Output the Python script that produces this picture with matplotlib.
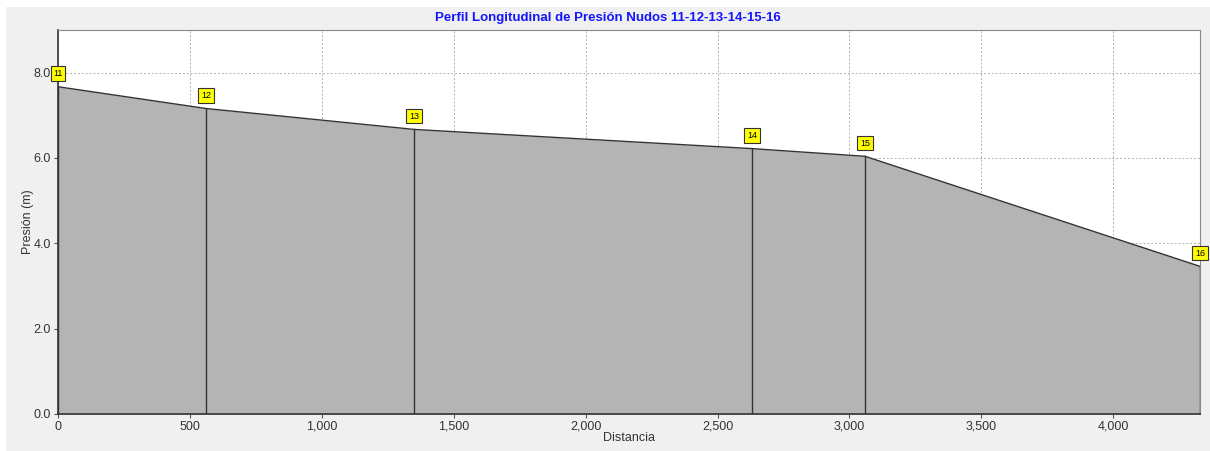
import matplotlib
matplotlib.use("Agg")
import matplotlib.pyplot as plt
from matplotlib.patches import Rectangle
from matplotlib.ticker import FuncFormatter, MultipleLocator

nodes = ["11", "12", "13", "14", "15", "16"]
distance = [0, 561, 1350, 2631, 3059, 4329]
pressure = [7.67, 7.16, 6.67, 6.22, 6.04, 3.46]

plt.rcParams['font.family'] = ['Liberation Sans', 'DejaVu Sans']

fig = plt.figure(figsize=(12.10, 4.51), dpi=100)
fig.patch.set_facecolor('white')
fig.patches.append(Rectangle((6/1210, 0), 1 - 6/1210, (451-7)/451,
                             transform=fig.transFigure, facecolor='#F0F0F0',
                             edgecolor='none', zorder=-10))

ax = fig.add_axes([58/1210, (451-414)/451, (1200-58)/1210, (414-30)/451])
ax.set_facecolor('white')

ax.fill_between(distance, 0, pressure, color='#B4B4B4', zorder=2, linewidth=0)
ax.plot(distance, pressure, color='#333333', linewidth=1.0, zorder=3)
for d, p in zip(distance, pressure):
    ax.plot([d, d], [0, p], color='#333333', linewidth=1.0, zorder=3)

for n, d, p in zip(nodes, distance, pressure):
    ax.annotate(n, (d, p), xytext=(0, 9.5), textcoords='offset points',
                ha='center', va='center', fontsize=6.5, zorder=5,
                bbox=dict(boxstyle='square,pad=0.3', facecolor='#FFFF00',
                          edgecolor='#333333', linewidth=0.8),
                annotation_clip=False)

ax.set_xlim(0, 4329)
ax.set_ylim(0, 9.0)
ax.xaxis.set_major_locator(MultipleLocator(500))
ax.yaxis.set_major_locator(MultipleLocator(2.0))
ax.xaxis.set_major_formatter(FuncFormatter(lambda v, p: f"{int(v):,}"))
ax.yaxis.set_major_formatter(FuncFormatter(lambda v, p: f"{v:.1f}"))
ax.grid(True, color='#B0B0B0', linestyle=(0, (2, 2)), linewidth=0.7, zorder=1)
ax.set_axisbelow(True)

ax.tick_params(labelsize=9, length=3, color='#555555', pad=2, labelcolor='#333333')
for s in ['top', 'right']:
    ax.spines[s].set_color('#888888')
    ax.spines[s].set_linewidth(0.8)
for s in ['left', 'bottom']:
    ax.spines[s].set_color('#333333')
    ax.spines[s].set_linewidth(1.2)

ax.set_xlabel("Distancia", fontsize=9, color='#333333', labelpad=-1)
ax.set_ylabel("Presión (m)", fontsize=9, color='#333333', labelpad=0)
fig.text(0.5 + 6/2420, (451-18)/451, "Perfil Longitudinal de Presión Nudos 11-12-13-14-15-16",
         ha='center', va='center', fontsize=9.5, fontweight='bold', color='#1515FF')

fig.savefig("out.png", dpi=100, facecolor=fig.get_facecolor())
